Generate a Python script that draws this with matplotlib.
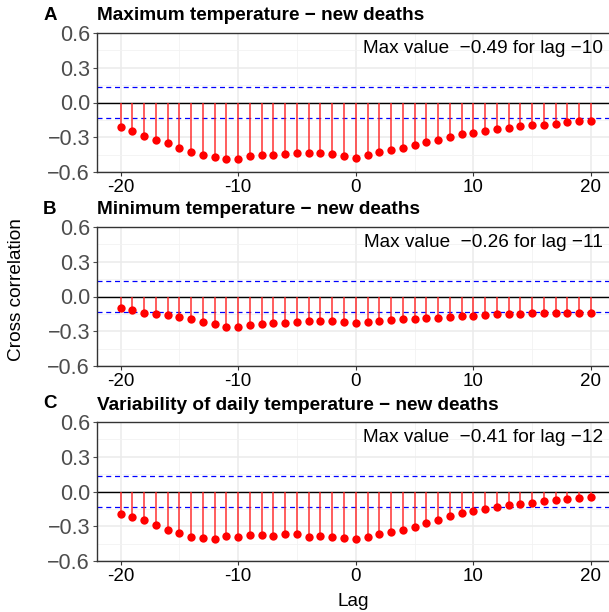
import matplotlib.pyplot as plt
import numpy as np

plt.rcParams['font.family'] = ['Liberation Sans', 'DejaVu Sans']

lags = list(range(-20, 21))

max_temp = [-0.21, -0.25, -0.29, -0.32, -0.35, -0.39, -0.43, -0.45, -0.47, -0.485,
            -0.487, -0.46, -0.45, -0.45, -0.445, -0.44, -0.437, -0.437, -0.445, -0.46,
            -0.477, -0.45, -0.43, -0.41, -0.39, -0.37, -0.34, -0.32, -0.30, -0.27,
            -0.26, -0.245, -0.23, -0.22, -0.205, -0.197, -0.19, -0.183, -0.17, -0.163,
            -0.157]

min_temp = [-0.10, -0.12, -0.146, -0.151, -0.157, -0.174, -0.194, -0.217, -0.237, -0.263,
            -0.26, -0.243, -0.234, -0.229, -0.231, -0.223, -0.211, -0.214, -0.214, -0.22,
            -0.226, -0.22, -0.211, -0.203, -0.197, -0.194, -0.189, -0.183, -0.18, -0.171,
            -0.166, -0.16, -0.154, -0.151, -0.149, -0.146, -0.146, -0.143, -0.143, -0.143,
            -0.143]

var_temp = [-0.194, -0.223, -0.249, -0.291, -0.329, -0.36, -0.391, -0.40, -0.414, -0.386,
            -0.394, -0.377, -0.377, -0.38, -0.369, -0.371, -0.389, -0.386, -0.397, -0.403,
            -0.411, -0.397, -0.369, -0.346, -0.329, -0.303, -0.271, -0.243, -0.214, -0.189,
            -0.171, -0.154, -0.134, -0.117, -0.106, -0.10, -0.086, -0.077, -0.066, -0.054,
            -0.046]

conf_limit = 0.131

panels = [
    ('A', 'Maximum temperature \u2212 new deaths', max_temp, 'Max value  \u22120.49 for lag \u221210'),
    ('B', 'Minimum temperature \u2212 new deaths', min_temp, 'Max value  \u22120.26 for lag \u221211'),
    ('C', 'Variability of daily temperature \u2212 new deaths', var_temp, 'Max value  \u22120.41 for lag \u221212'),
]

W, H = 609, 612
fig = plt.figure(figsize=(W / 100, H / 100), dpi=100)

tops = [33, 227, 422]
ax_h = 139
left = 97
right = 614.5

for (letter, title, vals, note), top in zip(panels, tops):
    ax = fig.add_axes([left / W, (H - top - ax_h) / H, (right - left) / W, ax_h / H])
    ax.set_xlim(-22, 22)
    ax.set_ylim(-0.6, 0.6)
    ax.set_yticks([-0.6, -0.3, 0.0, 0.3, 0.6])
    ax.set_yticklabels(['\u22120.6', '\u22120.3', '0.0', '0.3', '0.6'])
    ax.set_yticks([-0.45, -0.15, 0.15, 0.45], minor=True)
    ax.set_xticks([-20, -10, 0, 10, 20])
    ax.set_xticklabels(['-20', '-10', '0', '10', '20'])
    ax.set_xticks([-15, -5, 5, 15], minor=True)
    ax.grid(which='major', color='#ebebeb', lw=1.1)
    ax.grid(which='minor', color='#f2f2f2', lw=0.6)
    ax.set_axisbelow(True)
    ax.tick_params(axis='y', labelsize=15.5, colors='#4d4d4d', length=3, pad=2)
    ax.tick_params(axis='x', labelsize=13.5, labelcolor='black', color='#333333', length=3, pad=2)
    ax.tick_params(which='minor', length=0)
    for s in ax.spines.values():
        s.set_color('#333333')
        s.set_linewidth(1.0)

    ax.axhline(0, color='black', lw=1.0, zorder=2)
    ax.axhline(conf_limit, color='blue', lw=0.9, ls=(0, (4, 3)), zorder=2)
    ax.axhline(-conf_limit, color='blue', lw=0.9, ls=(0, (4, 3)), zorder=2)
    ax.vlines(lags, 0, vals, color='#ff2020', lw=1.2, alpha=0.85, zorder=3)
    ax.scatter(lags, vals, s=36, color='red', zorder=4, linewidths=0)

    ax.text(21.0, 0.47, note, ha='right', va='center', fontsize=13.7)
    fig.text(50 / W, 1 - (top - 18) / H, letter, ha='center', va='center',
             fontsize=13.5, fontweight='bold')
    fig.text(left / W, 1 - (top - 17) / H, title, ha='left', va='center',
             fontsize=13.7, fontweight='bold')

fig.text(17 / W, 1 - 290 / H, 'Cross correlation', rotation=90, ha='center', va='center',
         fontsize=13.7)
fig.text(353 / W, 1 - 601 / H, 'Lag', ha='center', va='center', fontsize=13.7)

fig.savefig('out.png', dpi=100)
